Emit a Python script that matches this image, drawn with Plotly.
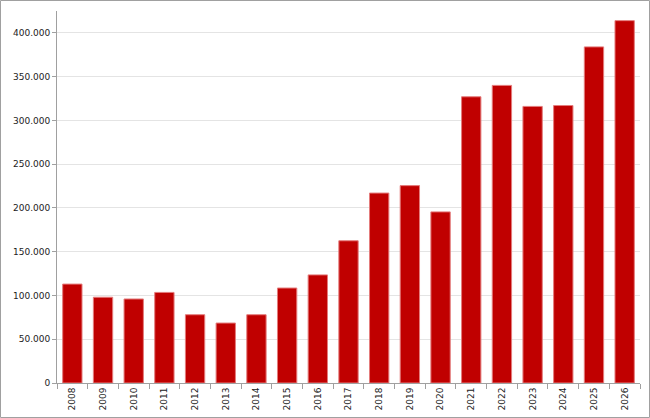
import plotly.graph_objects as go

years = [str(y) for y in range(2008, 2027)]
values = [113000, 98000, 96000, 103500, 78000, 68500, 78000, 108500, 123500,
          162500, 217000, 225500, 195500, 327000, 340000, 316000, 317000, 384000, 414000]

W, H = 650, 418
L, R, T, B = 57, 10, 11, 35

fig = go.Figure(go.Bar(
    x=years, y=values,
    marker=dict(color="#C00000", line=dict(color="#E47C7C", width=1)),
))

pw = W - L - R
ph = H - T - B
fig.add_shape(type="rect", xref="paper", yref="paper",
              x0=(0.5 - L) / pw, x1=(W - 0.5 - L) / pw,
              y0=-(B - 0.5) / ph, y1=1 + (T - 0.5) / ph,
              line=dict(color="#A0A0A0", width=1), layer="above")

fig.update_layout(
    width=W, height=H,
    margin=dict(l=L, r=R, t=T, b=B, autoexpand=False),
    paper_bgcolor="white", plot_bgcolor="white",
    bargap=0.37,
    separators=",.",
    showlegend=False,
    font=dict(family="DejaVu Sans", size=9, color="#222222"),
    xaxis=dict(type="category", tickangle=-90, tickson="boundaries",
               ticks="outside", ticklen=5, tickcolor="#A0A0A0",
               showline=True, linecolor="#A0A0A0", linewidth=1,
               showgrid=False, tickfont=dict(size=9), automargin=False),
    yaxis=dict(range=[0, 425000], dtick=50000, tickformat=",d",
               ticks="outside", ticklen=4, tickcolor="#A0A0A0",
               showline=True, linecolor="#A0A0A0", linewidth=1,
               showgrid=True, gridcolor="#E4E4E4", gridwidth=1,
               zeroline=False, tickfont=dict(size=9), automargin=False),
)

fig.write_html("out.html")
